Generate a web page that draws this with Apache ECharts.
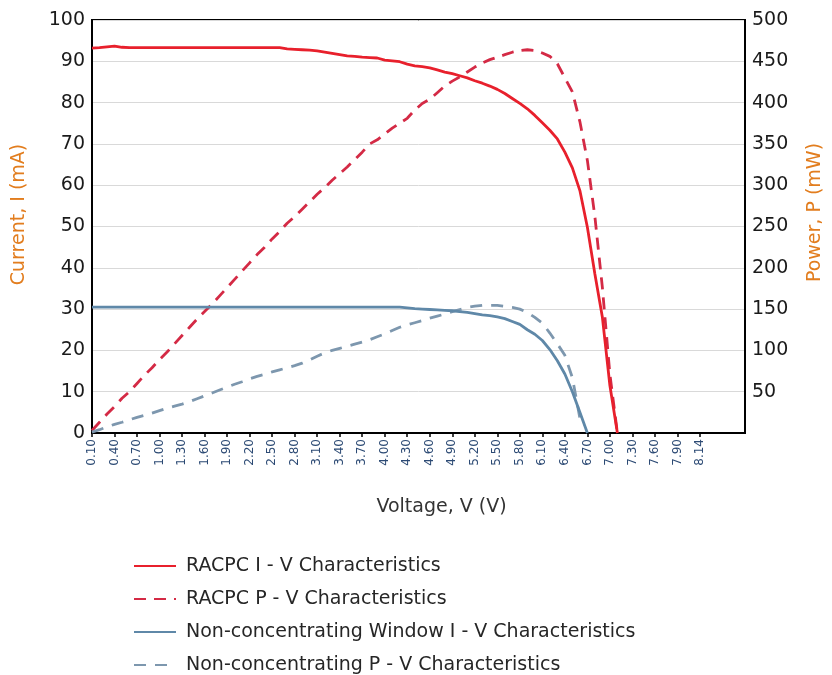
<!DOCTYPE html>
<html>
<head>
<meta charset="utf-8">
<script src="https://cdn.jsdelivr.net/npm/echarts@6.0.0/dist/echarts.min.js"></script>
<style>
html,body{margin:0;padding:0;background:#fff;}
#chart{width:832px;height:675px;}
</style>
</head>
<body>
<div id="chart"></div>
<script>
// Voltage categories (V); labels shown every third category up to 8.14
var voltage = ['0.10','0.20','0.30','0.40','0.50','0.60','0.70','0.80','0.90','1.00',
'1.10','1.20','1.30','1.40','1.50','1.60','1.70','1.80','1.90','2.00',
'2.10','2.20','2.30','2.40','2.50','2.60','2.70','2.80','2.90','3.00',
'3.10','3.20','3.30','3.40','3.50','3.60','3.70','3.80','3.90','4.00',
'4.10','4.20','4.30','4.40','4.50','4.60','4.70','4.80','4.90','5.00',
'5.10','5.20','5.30','5.40','5.50','5.60','5.70','5.80','5.90','6.00',
'6.10','6.20','6.30','6.40','6.50','6.60','6.70','6.80','6.90','7.00',
'7.10','7.20','7.30','7.40','7.50','7.60','7.70','7.80','7.90','8.00',
'8.10','8.14','8.24','8.34','8.44','8.54','8.64','8.74'];
var lastLabelIndex = 81;

// RACPC current (mA)
var racpcCurrent = [93.2,93.3,93.5,93.7,93.4,93.3,93.3,93.3,93.3,93.3,
93.3,93.3,93.3,93.3,93.3,93.3,93.3,93.3,93.3,93.3,
93.3,93.3,93.3,93.3,93.3,93.3,93.0,92.9,92.8,92.7,
92.5,92.2,91.9,91.6,91.3,91.2,91.0,90.9,90.8,90.3,
90.1,89.9,89.3,88.9,88.7,88.4,87.9,87.4,87.0,86.5,
86.0,85.3,84.7,84.0,83.2,82.2,81.0,79.8,78.5,76.9,
75.1,73.3,71.2,68.0,64.2,58.7,49.8,38.5,28.0,11.5,0];

// RACPC power (mW)
var racpcPower = [3,13,23,32,42,50,60,70,79,89,
98,108,118,128,138,147,156,166,176,186,
196,206,216,225,235,244,254,262,271,280,
289,297,306,314,322,331,340,350,355,362,
369,375,381,391,399,404,412,420,426,431,
437,443,448,452,455,458,461,463,464,463,
460,456,447,430,413,377,330,262,176,71,0];

// Non-concentrating window current (mA)
var windowCurrent = [30.5,30.5,30.5,30.5,30.5,30.5,30.5,30.5,30.5,30.5,
30.5,30.5,30.5,30.5,30.5,30.5,30.5,30.5,30.5,30.5,
30.5,30.5,30.5,30.5,30.5,30.5,30.5,30.5,30.5,30.5,
30.5,30.5,30.5,30.5,30.5,30.5,30.5,30.5,30.5,30.5,
30.5,30.5,30.3,30.1,30.0,29.9,29.8,29.7,29.6,29.4,
29.2,28.9,28.6,28.4,28.1,27.7,27.0,26.3,25.0,23.9,
22.4,20.2,17.5,14.3,10.0,5.0,0];

// Non-concentrating power (mW)
var windowPower = [1,4,7.5,10.5,13,16,19,21.5,24,27,
30,32.5,35,38,41.5,45,48.5,52,55.5,59,
62,65.5,68.5,71,74,76.5,79,81.5,84.5,88.5,
93,97,100,102.5,105,107.5,110,113,116.5,120,
124,128,131,133.5,136,139,141.5,144,147,149.5,
152,153.5,154.5,154.5,154.5,153.5,152,150,146,140,
133,121,108,94,67,18];

var seriesNames = ['RACPC I - V Characteristics','RACPC P - V Characteristics',
  'Non-concentrating Window I - V Characteristics','Non-concentrating P - V Characteristics'];

var FONT = 'DejaVu Sans';
var showIdx = function (idx) { return idx % 3 === 0 && idx <= lastLabelIndex; };

var chart = echarts.init(document.getElementById('chart'), null, {renderer: 'canvas'});
chart.setOption({
  animation: false,
  backgroundColor: '#ffffff',
  grid: {
    left: 92, top: 20, width: 653, height: 413,
    show: true, borderColor: '#000', borderWidth: 2, backgroundColor: 'transparent',
    outerBoundsMode: 'none'
  },
  legend: {
    orient: 'vertical', left: 133, top: 556, padding: 0,
    itemWidth: 42, itemHeight: 14, itemGap: 13,
    data: seriesNames,
    itemStyle: {opacity: 0, color: 'transparent', borderWidth: 0},
    textStyle: {fontFamily: FONT, fontSize: 19, color: '#262626', lineHeight: 20, padding: [0,0,0,5]}
  },
  xAxis: {
    type: 'category', data: voltage, boundaryGap: false,
    axisLine: {lineStyle: {color: '#000', width: 2}},
    axisTick: {show: true, interval: showIdx, length: 4, lineStyle: {color: '#000', width: 1.5}},
    axisLabel: {interval: showIdx, rotate: 90, fontFamily: FONT, fontSize: 12, color: '#2c4a74', margin: 6},
    splitLine: {show: false},
    name: 'Voltage, V (V)', nameLocation: 'middle', nameGap: 65,
    nameTextStyle: {fontFamily: FONT, fontSize: 19, color: '#333', padding: [0,0,0,46]}
  },
  yAxis: [{
    type: 'value', min: 0, max: 100, interval: 10,
    axisLine: {show: true, lineStyle: {color: '#000', width: 2}},
    axisTick: {show: false},
    axisLabel: {fontFamily: FONT, fontSize: 19, color: '#1a1a1a', margin: 7},
    splitLine: {show: true, lineStyle: {color: '#d9d9d9', width: 1}},
    name: 'Current, I (mA)', nameLocation: 'middle', nameGap: 63, nameRotate: 90,
    nameTextStyle: {fontFamily: FONT, fontSize: 19, color: '#E27D1E', padding: [0,0,0,24]}
  }, {
    type: 'value', min: 0, max: 500, interval: 50, position: 'right',
    axisLine: {show: true, lineStyle: {color: '#000', width: 2}},
    axisTick: {show: false},
    axisLabel: {fontFamily: FONT, fontSize: 19, color: '#1a1a1a', margin: 7, showMinLabel: false},
    splitLine: {show: false},
    name: 'Power, P (mW)', nameLocation: 'middle', nameGap: 61, nameRotate: 90,
    nameTextStyle: {fontFamily: FONT, fontSize: 19, color: '#E27D1E', padding: [0,0,0,28]}
  }],
  series: [{
    name: seriesNames[0], type: 'line', yAxisIndex: 0, data: racpcCurrent,
    symbol: 'none', lineStyle: {color: '#E8202C', width: 2.8, type: 'solid'}, itemStyle: {color: '#E8202C'}, z: 4
  }, {
    name: seriesNames[1], type: 'line', yAxisIndex: 1, data: racpcPower,
    symbol: 'none', lineStyle: {color: '#D42A45', width: 2.8, type: [12, 8]}, itemStyle: {color: '#D42A45'}, z: 3
  }, {
    name: seriesNames[2], type: 'line', yAxisIndex: 0, data: windowCurrent,
    symbol: 'none', lineStyle: {color: '#5F88A8', width: 2.8, type: 'solid'}, itemStyle: {color: '#5F88A8'}, z: 4
  }, {
    name: seriesNames[3], type: 'line', yAxisIndex: 1, data: windowPower,
    symbol: 'none', lineStyle: {color: '#7D97AE', width: 2.8, type: [12, 9]}, itemStyle: {color: '#7D97AE'}, z: 3
  }]
});
</script>
</body>
</html>
